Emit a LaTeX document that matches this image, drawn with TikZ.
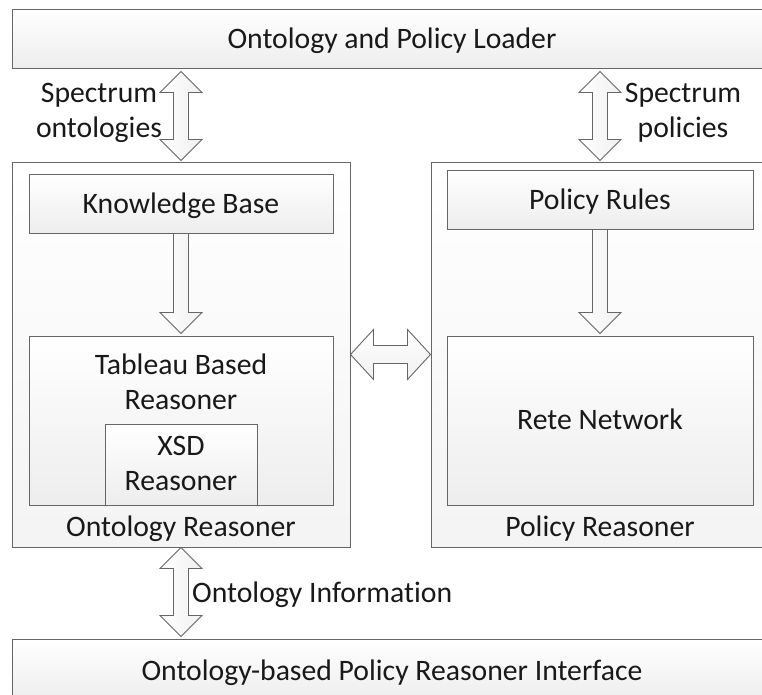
\documentclass[tikz,border=0pt]{standalone}
\usepackage{fontspec}
\setmainfont[Ligatures=NoCommon]{Carlito}
\usetikzlibrary{calc}
\definecolor{edge}{HTML}{666666}

% vertical double arrow between a top tip and a bottom tip
\newcommand\VDArrow[2]{%
  \draw[arr] (#1) -- ++(21,21) -- ++(-13.5,0) -- ($(#2)+(7.5,-21)$) -- ++(13.5,0)
    -- (#2) -- ++(-21,-21) -- ++(13.5,0) -- ($(#1)+(-7.5,21)$) -- ++(-13.5,0) -- cycle;}
% horizontal double arrow between a left tip and a right tip
\newcommand\HDArrow[2]{%
  \draw[harr] (#1) -- ++(23,-25) -- ++(0,16) -- ($(#2)+(-23,-9)$) -- ++(0,-16)
    -- (#2) -- ++(-23,25) -- ++(0,-16) -- ($(#1)+(23,9)$) -- ++(0,16) -- cycle;}
% single downward arrow from a shaft start to a tip
\newcommand\VSArrow[2]{%
  \draw[arr] ($(#1)+(-7.5,0)$) -- ($(#2)+(-7.5,-21)$) -- ++(-13.5,0) -- (#2)
    -- ++(21,-21) -- ++(-13.5,0) -- ($(#1)+(7.5,0)$) -- cycle;}

\begin{document}
\begin{tikzpicture}[x=1pt,y=-1pt,
  font=\fontsize{29.7}{35}\selectfont,
  box/.style={draw=edge, line width=1pt, rectangle, inner sep=0pt,
    top color=white, bottom color=gray!14},
  frame/.style={draw=edge, line width=1pt, rectangle, inner sep=0pt,
    top color=white, bottom color=gray!9},
  arr/.style={draw=edge, line width=0.9pt, line join=miter,
    left color=white, right color=gray!12},
  harr/.style={draw=edge, line width=0.9pt, line join=miter,
    top color=white, bottom color=gray!12},
  lbl/.style={inner sep=0pt, anchor=base, text=black!90}]

\useasboundingbox (0,0) rectangle (762,694);
\clip (0,0) rectangle (762,694);
\fill[white] (0,0) rectangle (762,694);

% outer components
\node[box, minimum width=760, minimum height=59] (loader) at (392,38.5) {};
\node[frame, minimum width=338, minimum height=385] (ontR) at (181,354.5) {};
\node[frame, minimum width=338, minimum height=385] (polR) at (600,354.5) {};
\node[box, minimum width=760, minimum height=62] (iface) at (392,670) {};

% inner components
\node[box, minimum width=304, minimum height=59] (kb) at (181,203.5) {};
\node[box, minimum width=304, minimum height=169] (tab) at (181,420.5) {};
\node[box, minimum width=152, minimum height=81] (xsd) at (181,464.5) {};
\node[box, minimum width=306, minimum height=59] (rules) at (600,199.5) {};
\node[box, minimum width=306, minimum height=169] (rete) at (600,420.5) {};

% texts
\node[lbl] (tLoader) at (392,48) {Ontology and Policy Loader};
\node[lbl] (tKb) at (181,213) {Knowledge Base};
\node[lbl] (tTabA) at (181,374) {Tableau Based};
\node[lbl] (tTabB) at (181,409) {Reasoner};
\node[lbl] (tXsdA) at (181,455.5) {XSD};
\node[lbl] (tXsdB) at (181,490) {Reasoner};
\node[lbl] (tOntR) at (181,536) {Ontology Reasoner};
\node[lbl] (tRules) at (600,209) {Policy Rules};
\node[lbl] (tRete) at (600,429) {Rete Network};
\node[lbl] (tPolR) at (600,536) {Policy Reasoner};
\node[lbl] (tIface) at (392,680) {Ontology-based Policy Reasoner Interface};
\node[lbl] (tSpecA) at (99,102) {Spectrum};
\node[lbl] (tSpecB) at (99,137) {ontologies};
\node[lbl] (tSpecC) at (683,102) {Spectrum};
\node[lbl] (tSpecD) at (683,137) {policies};
\node[lbl, anchor=base west] (tInfo) at (192,602) {Ontology Information};

% arrow end points
\coordinate (aOntTop) at ($(loader.south -| ontR.north)+(0,3)$);
\coordinate (aOntBot) at ($(ontR.north)+(0,-1)$);
\coordinate (aPolTop) at ($(loader.south -| polR.north)+(0,3)$);
\coordinate (aPolBot) at ($(polR.north)+(0,-1)$);
\coordinate (aTabTip) at ($(tab.north)+(0,-2)$);
\coordinate (aReteTip) at ($(rete.north)+(0,-2)$);
\coordinate (aIfTip) at ($(iface.north -| ontR.south)+(0,-2)$);

% connectors
\VDArrow{aOntTop}{aOntBot}
\VDArrow{aPolTop}{aPolBot}
\VSArrow{kb.south}{aTabTip}
\VSArrow{rules.south}{aReteTip}
\HDArrow{ontR.east}{polR.west}
\VDArrow{ontR.south}{aIfTip}
\end{tikzpicture}
\end{document}
